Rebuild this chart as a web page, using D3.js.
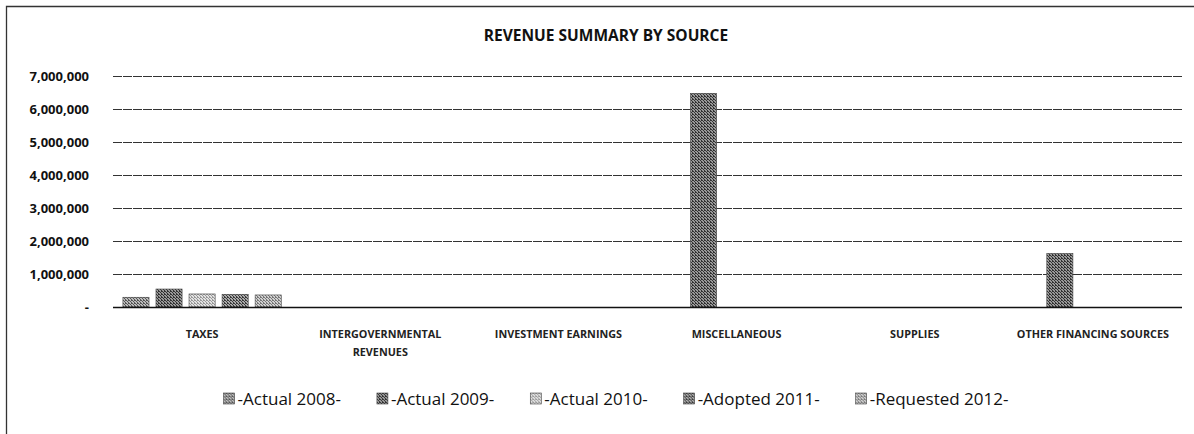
<!DOCTYPE html>
<html lang="en">
<head>
<meta charset="UTF-8">
<title>Revenue Summary by Source</title>
<script src="https://d3js.org/d3.v7.min.js"></script>
<style>
    body { margin: 0; padding: 0; background: #fff; }
    svg { display: block; }
</style>
</head>
<body>
<svg id="chart" width="1194" height="434"></svg>
<script>
    // chart data
    const categories = ["TAXES", "INTERGOVERNMENTAL REVENUES", "INVESTMENT EARNINGS", "MISCELLANEOUS", "SUPPLIES", "OTHER FINANCING SOURCES"];
    const series = ["-Actual 2008-", "-Actual 2009-", "-Actual 2010-", "-Adopted 2011-", "-Requested 2012-"];
    const actual2008 = [295000, 0, 0, 0, 0, 0];
    const actual2009 = [545000, 0, 0, 6475000, 0, 1625000];
    const actual2010 = [395000, 0, 0, 0, 0, 0];
    const adopted2011 = [385000, 0, 0, 0, 0, 0];
    const requested2012 = [365000, 0, 0, 0, 0, 0];
    const yTicks = [0, 1000000, 2000000, 3000000, 4000000, 5000000, 6000000, 7000000];

    const values = [actual2008, actual2009, actual2010, adopted2011, requested2012];
    const rows = [];
    categories.forEach((c, ci) => {
        series.forEach((s, si) => rows.push({ cat: c, ser: s, si: si, v: values[si][ci] }));
    });

    const svg = d3.select("#chart");
    const font = "'Open Sans', Arial, sans-serif";

    // dithered gray fills, like the scanned print
    const shades = [["#555", "#bbb"], ["#333", "#999"], ["#999", "#e2e2e2"], ["#3a3a3a", "#aaa"], ["#777", "#d0d0d0"]];
    const defs = svg.append("defs");
    shades.forEach((sh, i) => {
        const p = defs.append("pattern").attr("id", "pat" + i)
            .attr("width", 3).attr("height", 3).attr("patternUnits", "userSpaceOnUse");
        p.append("rect").attr("width", 3).attr("height", 3).attr("fill", sh[1]);
        [[0, 0], [1, 1], [2, 2], [2, 0]].forEach(q =>
            p.append("rect").attr("x", q[0]).attr("y", q[1]).attr("width", 1).attr("height", 1).attr("fill", sh[0]));
    });

    // frame
    svg.append("path").attr("d", "M6.5,434 V6.5 H1194")
        .attr("fill", "none").attr("stroke", "#333").attr("stroke-width", 1.3);

    const x = d3.scaleBand().domain(categories).range([113, 1182]);
    const xs = d3.scaleBand().domain(series).range([0, x.bandwidth()])
        .paddingInner(0.21).paddingOuter(0.3);
    const y = d3.scaleLinear().domain([0, 7000000]).range([307, 76]);

    // gridlines + y labels
    const yAxis = svg.append("g")
        .attr("transform", "translate(113,0)")
        .call(d3.axisLeft(y).tickValues(yTicks)
            .tickSize(-(1182 - 113)).tickPadding(24)
            .tickFormat(d => d === 0 ? "-" : d3.format(",")(d)));
    yAxis.select(".domain").remove();
    yAxis.selectAll(".tick line").attr("stroke", "#333").attr("stroke-dasharray", "9,1");
    yAxis.selectAll(".tick text").attr("fill", "#111")
        .style("font-family", font).style("font-size", "13px").style("font-weight", "bold");

    // bars
    svg.append("g").selectAll("rect")
        .data(rows.filter(d => d.v > 0))
        .enter().append("rect")
        .attr("x", d => x(d.cat) + xs(d.ser))
        .attr("width", xs.bandwidth())
        .attr("y", d => y(d.v))
        .attr("height", d => y(0) - y(d.v))
        .attr("fill", d => "url(#pat" + d.si + ")")
        .attr("stroke", "#444").attr("stroke-width", 0.6);

    // baseline
    svg.append("line").attr("x1", 113).attr("x2", 1182)
        .attr("y1", y(0) + 0.5).attr("y2", y(0) + 0.5)
        .attr("stroke", "#111").attr("stroke-width", 1.3);

    // category labels (wrapped like the original)
    const wrap = { "INTERGOVERNMENTAL REVENUES": ["INTERGOVERNMENTAL", "REVENUES"] };
    categories.forEach(c => {
        const lines = wrap[c] || [c];
        const t = svg.append("text")
            .attr("x", x(c) + x.bandwidth() / 2)
            .attr("y", 338)
            .attr("text-anchor", "middle")
            .style("font-family", font).style("font-size", "10.8px")
            .style("font-weight", "bold").attr("fill", "#222");
        lines.forEach((l, i) => t.append("tspan")
            .attr("x", x(c) + x.bandwidth() / 2).attr("dy", i === 0 ? 0 : 18).text(l));
    });

    // title
    svg.append("text").attr("x", 606).attr("y", 41)
        .attr("text-anchor", "middle")
        .style("font-family", font).style("font-size", "15.5px").style("font-weight", "bold")
        .attr("fill", "#111").text("REVENUE SUMMARY BY SOURCE");

    // legend
    const lg = svg.append("g");
    let lx = 0;
    series.forEach((s, i) => {
        const item = lg.append("g").attr("transform", `translate(${lx},0)`);
        item.append("rect").attr("x", 0).attr("y", -6).attr("width", 11).attr("height", 11)
            .attr("fill", "url(#pat" + i + ")").attr("stroke", "#444").attr("stroke-width", 0.6);
        const t = item.append("text").attr("x", 14).attr("y", 6)
            .style("font-family", font).style("font-size", "17px")
            .attr("fill", "#111").text(s);
        lx += 14 + t.node().getComputedTextLength() + 36;
    });
    lx -= 36;
    lg.attr("transform", `translate(${616 - lx / 2},399)`);
</script>
</body>
</html>
